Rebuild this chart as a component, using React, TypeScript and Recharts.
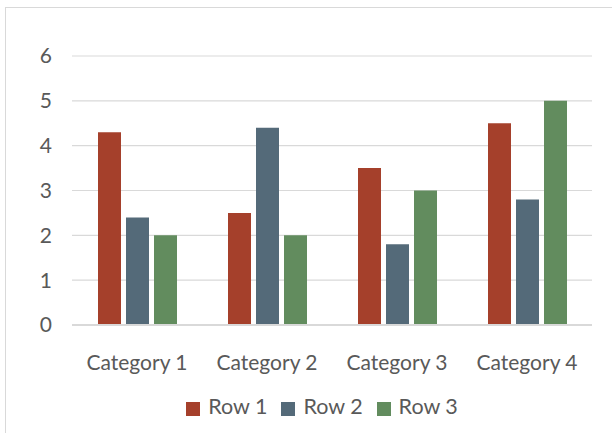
import React from "react";
import { BarChart, Bar, XAxis, YAxis, CartesianGrid, Legend } from "recharts";

const categories = ["Category 1", "Category 2", "Category 3", "Category 4"];
const row1 = [4.3, 2.5, 3.5, 4.5];
const row2 = [2.4, 4.4, 1.8, 2.8];
const row3 = [2, 2, 3, 5];
const yTicks = [0, 1, 2, 3, 4, 5, 6];

const COLORS = ["#A5402B", "#546A79", "#628C5E"];
const TEXT = "#595959";
const FONT = "Lato, 'Open Sans', sans-serif";

const data = categories.map((name, i) => ({
  name,
  "Row 1": row1[i],
  "Row 2": row2[i],
  "Row 3": row3[i],
}));

export default function App() {
  return (
    <div style={{ position: "fixed", left: 0, top: 0, width: 612, height: 433, background: "#fff", overflow: "hidden", fontFamily: FONT }}>
      <div style={{ position: "absolute", left: 5, top: 7, width: 640, height: 460, border: "1.5px solid #d9d9d9" }} />
      <BarChart
        width={612}
        height={433}
        data={data}
        margin={{ top: 56, right: 20, left: 22, bottom: 12 }}
        barSize={23}
        barGap={5}
        style={{ position: "absolute", left: 0, top: 0 }}
      >
        <CartesianGrid vertical={false} stroke="#d9d9d9" strokeWidth={1.2} />
        <XAxis
          dataKey="name"
          height={68}
          tickLine={false}
          axisLine={{ stroke: "#d9d9d9", strokeWidth: 2 }}
          tick={{ fill: TEXT, fontSize: 21, fontFamily: FONT }}
          tickMargin={24}
        />
        <YAxis
          width={50}
          domain={[0, 6]}
          ticks={yTicks}
          tickLine={false}
          axisLine={false}
          tick={{ fill: TEXT, fontSize: 21, fontFamily: FONT }}
          tickMargin={14}
        />
        <Legend
          verticalAlign="bottom"
          iconType="square"
          iconSize={14}
          wrapperStyle={{ height: 28, fontSize: 21.5, color: TEXT, fontFamily: FONT, paddingLeft: 22 }}
          formatter={(v) => <span style={{ color: TEXT, marginLeft: 4, marginRight: 4 }}>{v}</span>}
        />
        <Bar dataKey="Row 1" fill={COLORS[0]} isAnimationActive={false} />
        <Bar dataKey="Row 2" fill={COLORS[1]} isAnimationActive={false} />
        <Bar dataKey="Row 3" fill={COLORS[2]} isAnimationActive={false} />
      </BarChart>
    </div>
  );
}
